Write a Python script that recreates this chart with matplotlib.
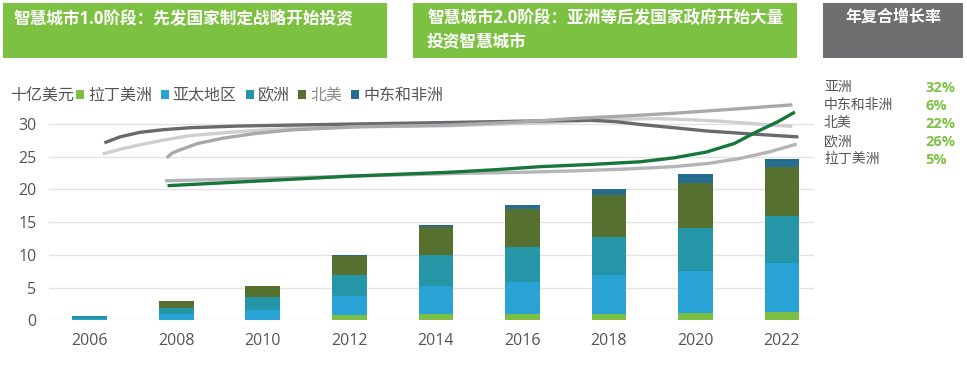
import numpy as np
import matplotlib
matplotlib.use('Agg')
import matplotlib.pyplot as plt
from matplotlib.patches import Rectangle

plt.rcParams['font.family'] = ['Open Sans', 'Noto Sans CJK SC', 'DejaVu Sans']

# stacked bars, billions USD
years = ['2006', '2008', '2010', '2012', '2014', '2016', '2018', '2020', '2022']
latam = [0.02, 0.05, 0.05, 0.76, 0.92, 1.00, 1.00, 1.16, 1.31]
apac = [0.20, 0.90, 1.50, 2.95, 4.32, 4.85, 5.87, 6.37, 7.44]
europe = [0.40, 1.00, 2.00, 3.20, 4.68, 5.39, 5.89, 6.52, 7.22]
namerica = [0.08, 0.95, 1.73, 2.95, 4.28, 5.71, 6.32, 6.95, 7.39]
mea = [0.00, 0.00, 0.00, 0.05, 0.40, 0.65, 0.92, 1.30, 1.22]

series_names = ['拉丁美洲', '亚太地区', '欧洲', '北美', '中东和非洲']
series_colors = ['#7cbf42', '#29a3d6', '#2596a8', '#56702f', '#276b8e']

# CAGR panel
cagr_regions = ['亚洲', '中东和非洲', '北美', '欧洲', '拉丁美洲']
cagr_values = ['32%', '6%', '22%', '26%', '5%']

# decorative trend curves (x in bar index units, y in axis units)
curve_dark_x = [0.17, 0.35, 0.58, 0.85, 1.16, 1.7, 2.31, 3.2, 4.16, 5.0, 5.78, 6.1, 6.36, 6.75, 7.13, 7.7, 8.19]
curve_dark_y = [27.1, 28.0, 28.7, 29.1, 29.4, 29.65, 29.8, 30.0, 30.2, 30.4, 30.55, 30.3, 29.9, 29.4, 28.9, 28.4, 28.0]
curve_light_x = [0.15, 0.35, 0.58, 0.85, 1.16, 1.7, 2.31, 3.2, 4.16, 5.3, 6.2, 6.56, 6.9, 7.28, 7.7, 8.12]
curve_light_y = [25.4, 26.1, 26.8, 27.5, 28.2, 28.8, 29.3, 29.55, 29.7, 30.2, 30.7, 30.8, 30.65, 30.4, 30.0, 29.6]
curve_mid_x = [0.89, 0.95, 1.04, 1.25, 1.54, 1.9, 2.31, 3.09, 4.16, 5.0, 5.58, 6.2, 6.74, 7.4, 8.12]
curve_mid_y = [24.8, 25.5, 26.0, 27.0, 27.8, 28.5, 29.05, 29.55, 29.8, 30.3, 30.8, 31.2, 31.6, 32.2, 32.9]
curve_low_x = [0.87, 2.0, 3.0, 4.16, 5.0, 5.58, 6.2, 6.74, 7.15, 7.51, 7.85, 8.17]
curve_low_y = [21.3, 21.65, 22.0, 22.4, 22.6, 22.8, 23.1, 23.45, 23.95, 24.7, 25.7, 26.9]
curve_green_x = [0.90, 2.0, 3.0, 4.16, 4.7, 5.2, 5.8, 6.36, 6.75, 7.13, 7.45, 7.71, 7.95, 8.15]
curve_green_y = [20.55, 21.3, 22.0, 22.6, 23.0, 23.45, 23.8, 24.2, 24.8, 25.7, 27.0, 28.8, 30.3, 31.8]

W, H = 967, 365
fig = plt.figure(figsize=(W / 100, H / 100), dpi=100)
ax = fig.add_axes([49 / W, 1 - 320.3 / H, (814 - 49) / W, 222.7 / H])

x = np.arange(len(years))
bottom = np.zeros(len(years))
bars = []
for vals, col in zip([latam, apac, europe, namerica, mea], series_colors):
    b = ax.bar(x, vals, 0.40, bottom=bottom, color=col, zorder=2)
    bars.append(b)
    bottom += np.array(vals)

curves = [
    (curve_light_x, curve_light_y, '#cfcfcf'),
    (curve_dark_x, curve_dark_y, '#6a6a6d'),
    (curve_mid_x, curve_mid_y, '#a9a9ab'),
    (curve_low_x, curve_low_y, '#b5b5b7'),
    (curve_green_x, curve_green_y, '#17763a'),
]
for cx, cy, col in curves:
    ax.plot(cx, cy, color=col, lw=2.4, solid_capstyle='butt', solid_joinstyle='round',
            clip_on=False, zorder=3)

ax.set_xlim(-0.47, 8.37)
ax.set_ylim(0, 34)
ax.set_yticks(range(0, 31, 5))
ax.set_xticks(x)
ax.set_xticklabels(years)
ax.grid(axis='y', color='#e3e3e3', lw=1, zorder=0)
ax.set_axisbelow(True)
for s in ax.spines.values():
    s.set_visible(False)
ax.tick_params(length=0, labelsize=11.5, colors='#555555')
ax.tick_params(axis='x', pad=9)
ax.tick_params(axis='y', pad=9)

# legend
fig.text(10 / W, 1 - 96 / H, '十亿美元', fontsize=11.5, color='#555555', va='center')
leg = fig.legend(handles=bars, labels=series_names, ncol=5, loc='center left',
                 bbox_to_anchor=(76 / W, 1 - 96 / H), frameon=False, fontsize=11.5,
                 handlelength=0.5, handleheight=0.5, handletextpad=0.25,
                 columnspacing=0.55, borderpad=0, borderaxespad=0)
for t in leg.get_texts():
    t.set_color('#555555')
leg.get_texts()[3].set_color('#8c8c8c')

# header boxes
boxes = [(3, 387, '#7dc142'), (413, 797, '#7dc142'), (823, 963, '#6f6f72')]
for x0, x1, col in boxes:
    fig.add_artist(Rectangle((x0 / W, 1 - 58 / H), (x1 - x0) / W, 55 / H,
                             transform=fig.transFigure, color=col, lw=0))
fig.text(13 / W, 1 - 18 / H, '智慧城市1.0阶段：先发国家制定战略开始投资', color='white',
         fontsize=12, fontweight='bold', va='center')
fig.text(427 / W, 1 - 18 / H, '智慧城市2.0阶段：亚洲等后发国家政府开始大量', color='white',
         fontsize=12, fontweight='bold', va='center')
fig.text(427 / W, 1 - 42 / H, '投资智慧城市', color='white',
         fontsize=12, fontweight='bold', va='center')
fig.text(893 / W, 1 - 18 / H, '年复合增长率', color='white',
         fontsize=11.5, fontweight='bold', va='center', ha='center')

# CAGR list
for i, (r, v) in enumerate(zip(cagr_regions, cagr_values)):
    yy = 1 - (87.5 + i * 18.1) / H
    fig.text(824 / W, yy, r, fontsize=10, color='#555555', va='center')
    fig.text(925 / W, yy, v, fontsize=10.5, color='#7dc142', fontweight='bold', va='center')

fig.savefig('out.png', dpi=100)
